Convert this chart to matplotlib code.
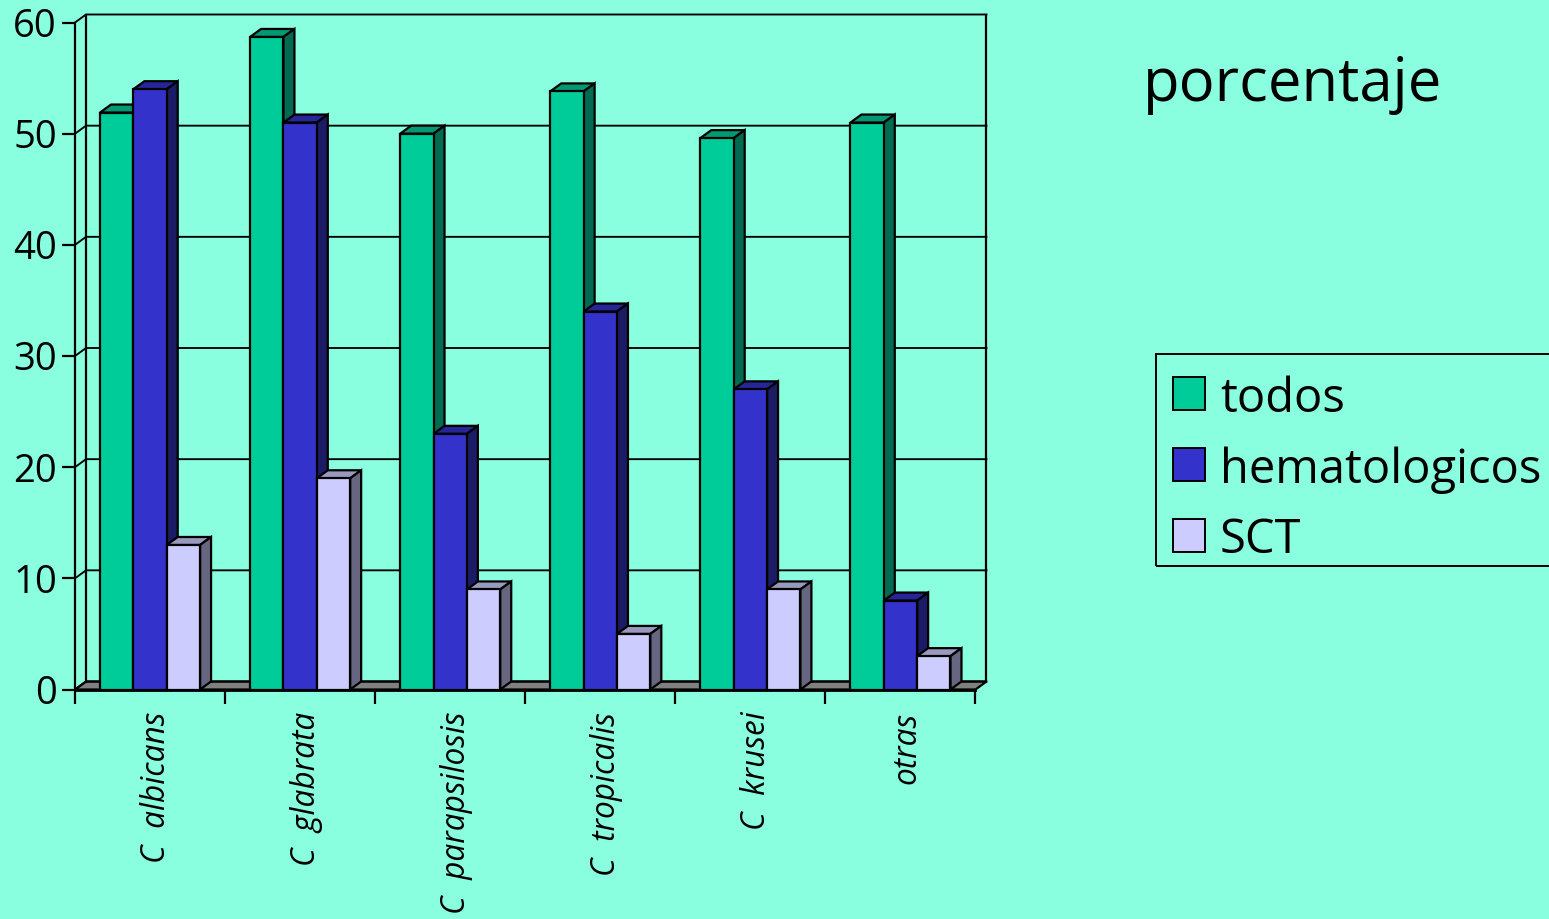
#!/usr/bin/python3

import numpy as np
import matplotlib
matplotlib.use("Agg")
import matplotlib.pyplot as plt
from matplotlib.patches import Rectangle

categories = ["C  albicans", "C  glabrata", "C  parapsilosis", "C  tropicalis", "C  krusei", "otras"]
series_names = ["todos", "hematologicos", "SCT"]
todos = [51.9, 58.7, 50, 53.8, 49.6, 51]
hematologicos = [54, 51, 23, 34, 27, 8]
sct = [13, 19, 9, 5, 9, 3]
y_ticks = [0, 10, 20, 30, 40, 50, 60]

BG = "#8AFFDF"
FRONT = ["#00CC99", "#3333CC", "#CCCCFF"]
TOP = ["#009973", "#262699", "#9999BF"]
SIDE = ["#006B50", "#1B1B66", "#666680"]
W, H = 1549, 919
FONT = "Open Sans"


def px_rect(x0, y0, x1, y1):
    # figure fraction rectangle from pixel corners, y counted from the top
    return (x0 / W, 1 - y1 / H, (x1 - x0) / W, (y1 - y0) / H)


def main():
    plt.rcParams["font.family"] = FONT
    fig = plt.figure(figsize=(W / 100, H / 100), dpi=100, facecolor=BG)
    ax = fig.add_axes(px_rect(75, 22.5, 975.5, 689.5))
    ax.set_facecolor("none")
    ax.set_xlim(0, 6)
    ax.set_ylim(0, 60)
    for s in ax.spines.values():
        s.set_visible(False)

    # depth of the fake 3D box in data units
    dx = 11 / (900.5 / 6)
    dy = 8 / (667 / 60)
    lw = 1.6

    # floor
    ax.fill([0, 6, 6 + dx, dx], [0, 0, dy, dy], facecolor="#808080", edgecolor="black",
            linewidth=lw, clip_on=False, zorder=1)
    # gridlines on the back wall and the left wall
    for y in y_ticks:
        ax.plot([0, dx, 6 + dx], [y, y + dy, y + dy], color="black", linewidth=1.35,
                clip_on=False, zorder=1, solid_joinstyle="miter")
    ax.plot([dx, dx], [dy, 60 + dy], color="black", linewidth=lw, clip_on=False, zorder=1)
    ax.plot([6 + dx, 6 + dx], [dy, 60 + dy], color="black", linewidth=lw, clip_on=False, zorder=1)
    ax.plot([0, 0], [0, 60], color="black", linewidth=lw, clip_on=False, zorder=1)
    ax.plot([0, 6], [0, 0], color="black", linewidth=2, clip_on=False, zorder=1)

    # bars, left to right so each front face covers the side of its neighbour
    values = [todos, hematologicos, sct]
    bar_w = 2 / 9
    z = 2
    for i in range(len(categories)):
        for j in range(3):
            x0 = i + 1 / 6 + j * bar_w
            x1 = x0 + bar_w
            v = values[j][i]
            ax.fill([x0, x1, x1 + dx, x0 + dx], [v, v, v + dy, v + dy], facecolor=TOP[j],
                    edgecolor="black", linewidth=lw, clip_on=False, zorder=z)
            ax.fill([x1, x1 + dx, x1 + dx, x1], [0, dy, v + dy, v], facecolor=SIDE[j],
                    edgecolor="black", linewidth=lw, clip_on=False, zorder=z)
            ax.bar(x0, v, width=bar_w, align="edge", color=FRONT[j], edgecolor="black",
                   linewidth=lw, clip_on=False, zorder=z + 1)
            z += 2

    ax.set_yticks(y_ticks)
    ax.tick_params(axis="y", length=9.5, width=1.6, pad=3.5, labelsize=27.5)
    ax.set_xticks(np.arange(0, 7))
    ax.set_xticklabels([])
    ax.tick_params(axis="x", which="major", length=10, width=1.6)
    # labels sit slightly right of the category centre
    ax.set_xticks(np.arange(6) + 0.54, minor=True)
    ax.set_xticklabels(categories, minor=True, rotation=90, style="italic", fontsize=22.8,
                       ha="center", va="top")
    ax.tick_params(axis="x", which="minor", length=0, pad=16)

    fig.text(1143 / W, 1 - 85 / H, "porcentaje", fontsize=43, ha="left", va="center")

    # legend box runs off the right edge of the figure
    fig.add_artist(Rectangle(px_rect(1155.5, 354, 1560, 565.5)[:2], 404.5 / W, 211.5 / H,
                             transform=fig.transFigure, facecolor="none",
                             edgecolor="black", linewidth=1.4))
    for name, color, yc in zip(series_names, FRONT, [393.5, 464.5, 535]):
        fig.add_artist(Rectangle(px_rect(1172.5, yc - 16.5, 1205, yc + 16.5)[:2], 32.5 / W, 33 / H,
                                 transform=fig.transFigure, facecolor=color,
                                 edgecolor="black", linewidth=1.4))
        fig.text(1220 / W, 1 - yc / H, name, fontsize=33.9, ha="left", va="center_baseline")

    fig.savefig("out.png", dpi=100, facecolor=BG)


if __name__ == "__main__":
    main()
